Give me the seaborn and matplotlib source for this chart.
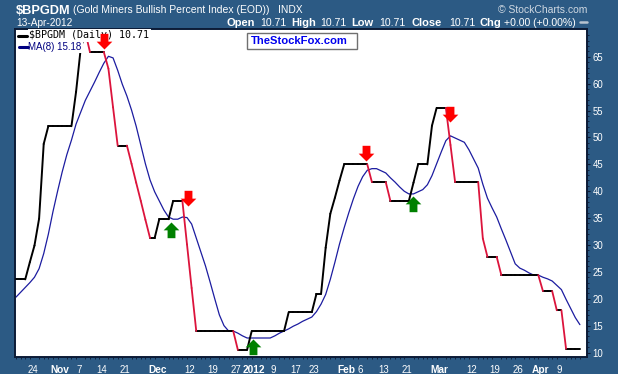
import numpy as np
import pandas as pd
import matplotlib
matplotlib.use("Agg")
import matplotlib.pyplot as plt
import seaborn as sns
from matplotlib.path import Path
from matplotlib.lines import Line2D
from matplotlib.patches import Rectangle
from matplotlib.transforms import ScaledTranslation

# ---------------- data ----------------
bpgdm = [23.6, 23.6, 23.6, 26.8, 29.9, 34.9, 48.8,
         52.1, 52.1, 52.1, 52.1, 52.1, 52.1,
         58.5, 66.5, 69.6,
         65.9, 65.9, 65.9, 65.9,
         62.8, 55.6,
         48.5, 48.5, 48.5,
         45.1, 41.6, 38.2, 34.7, 31.3,
         31.3,
         34.8, 34.8, 34.8,
         38.2, 38.2, 38.2,
         30.1, 22.0,
         14.0, 14.0, 14.0, 14.0, 14.0, 14.0, 14.0, 14.0, 14.0,
         10.5, 10.5, 10.5,
         14.0, 14.0, 14.0, 14.0, 14.0, 14.0, 14.0, 14.0,
         17.5, 17.5, 17.5, 17.5, 17.5, 17.5,
         20.9, 20.9,
         29.5, 35.8, 38.8, 42.0,
         45.0, 45.0, 45.0, 45.0, 45.0, 45.0,
         41.7, 41.7, 41.7, 41.7,
         38.2, 38.2, 38.2, 38.2, 38.2,
         41.6,
         45.0, 45.0, 45.0,
         52.2,
         55.5, 55.5, 55.5,
         48.6,
         41.7, 41.7, 41.7, 41.7, 41.7, 41.7,
         31.2,
         27.8, 27.8, 27.8,
         24.4, 24.4, 24.4, 24.4, 24.4, 24.4, 24.4, 24.4, 24.4,
         21.43, 21.43, 21.43,
         17.86, 17.86,
         10.71, 10.71, 10.71, 10.71]

ma8 = [20.3, 21.2, 22.1, 23.0, 24.0, 25.6, 28.4, 32.0, 36.2, 40.0,
       43.6, 46.8, 49.5, 52.5, 54.7, 56.9, 58.6, 60.3, 62.1, 63.8,
       65.1, 64.8, 62.5, 59.9, 57.7, 55.1, 52.1, 48.6, 45.1, 42.1,
       39.9, 38.2, 36.5, 35.2, 34.8, 34.8, 35.2, 35.1, 33.9, 31.3,
       28.7, 26.1, 23.1, 20.0, 17.0, 15.0, 14.0, 14.0, 13.6, 13.1,
       12.7, 12.7, 12.7, 12.7, 12.7, 12.7, 13.1, 13.6, 14.0, 14.4,
       14.9, 15.3, 15.8, 16.2, 16.6, 17.6, 19.0, 20.8, 23.6, 26.8,
       30.2, 33.2, 36.0, 38.6, 40.9, 42.7, 43.9, 44.2, 44.2, 43.8,
       43.4, 42.5, 41.7, 40.8, 40.0, 39.5, 39.5, 39.9, 40.3, 41.2,
       42.9, 45.1, 47.3, 49.4, 50.3, 49.9, 49.5, 49.1, 47.7, 46.0,
       44.3, 41.3, 38.7, 36.9, 35.2, 33.0, 30.9, 28.7, 26.5, 25.7,
       25.3, 24.8, 24.4, 24.4, 24.0, 23.7, 23.3, 22.5, 21.7, 19.9,
       18.2, 16.5, 15.18]

start_date, end_date = "2011-10-18", "2012-04-13"
holidays = ["2011-11-24", "2011-12-26", "2012-01-02", "2012-01-16",
            "2012-02-20", "2012-04-06"]

tick_dates = ["2011-10-24", "2011-11-01", "2011-11-07", "2011-11-14", "2011-11-21",
              "2011-12-01", "2011-12-12", "2011-12-19", "2011-12-27", "2012-01-03",
              "2012-01-09", "2012-01-17", "2012-01-23", "2012-02-01", "2012-02-06",
              "2012-02-13", "2012-02-21", "2012-03-01", "2012-03-12", "2012-03-19",
              "2012-03-26", "2012-04-02", "2012-04-09"]
tick_labels = ["24", "Nov", "7", "14", "21", "Dec", "12", "19", "27", "2012", "9",
               "17", "23", "Feb", "6", "13", "21", "Mar", "12", "19", "26", "Apr", "9"]
bold_labels = ["Nov", "Dec", "2012", "Feb", "Mar", "Apr"]
y_ticks = [10, 15, 20, 25, 30, 35, 40, 45, 50, 55, 60, 65]

# signal arrows (annotations): trading-day position and tip value
sell_t = [19.1, 37.3, 75.7, 93.9]
sell_v = [66.4, 37.3, 45.7, 52.9]
buy_t = [33.5, 51.3, 85.9]
buy_v = [34.3, 12.55, 39.15]

# ---------------- styling ----------------
sns.set_theme(style="white")
plt.rcParams["font.family"] = ["Liberation Sans", "DejaVu Sans"]

BG = "#2c5a84"
NAVY_BORDER = "#0c1b36"
RED = "#dc143c"
BLUE = "#1c1ca0"
W, H = 618, 374

fig = plt.figure(figsize=(W / 100, H / 100), dpi=100)
fig.patch.set_facecolor(BG)

def px(x, y):
    return x / W, 1 - y / H

left, right, top, bottom = 14.5, 587.3, 29.3, 357.3
ax = fig.add_axes([left / W, 1 - bottom / H, (right - left) / W, (bottom - top) / H])
ax.set_facecolor("white")

dates = pd.bdate_range(start_date, end_date, freq="C", holidays=holidays)
df = pd.DataFrame({"t": np.arange(len(dates)), "date": dates,
                   "BPGDM": bpgdm, "MA8": ma8})

# one segment per day-to-day step, coloured by direction
steps = range(len(bpgdm) - 1)
seg = pd.DataFrame({
    "seg": np.repeat(np.arange(len(bpgdm) - 1), 2),
    "t": [t for i in steps for t in (i, i + 1)],
    "v": [bpgdm[t] for i in steps for t in (i, i + 1)],
    "kind": [("down" if bpgdm[i + 1] < bpgdm[i] else "up") for i in steps for _ in (0, 1)],
})

sns.lineplot(data=df, x="t", y="MA8", color=BLUE, lw=0.9, ax=ax, zorder=2)
sns.lineplot(data=seg[seg.kind == "up"], x="t", y="v", units="seg", estimator=None,
             color="black", lw=1.4, ax=ax, zorder=3, solid_capstyle="round")
sns.lineplot(data=seg[seg.kind == "down"], x="t", y="v", units="seg", estimator=None,
             color=RED, lw=1.3, ax=ax, zorder=4, solid_capstyle="round")

ax.set_xlim(-0.32, 123.6)
ax.set_ylim(9.11, 70.12)
ax.set_xlabel("")
ax.set_ylabel("")

# y axis on the right
ax.yaxis.tick_right()
ax.set_yticks(y_ticks)
ax.set_yticklabels([str(v) for v in y_ticks])
ax.set_yticks(np.arange(10, 70, 1), minor=True)
ax.tick_params(axis="y", which="major", length=2.4, width=0.8, color=NAVY_BORDER,
               labelcolor="white", labelsize=6.9, pad=1.2, direction="out",
               left=False, right=True)
ax.tick_params(axis="y", which="minor", length=1.5, width=0.6, color=NAVY_BORDER,
               left=False, right=True, direction="out")

# x axis
tick_idx = dates.get_indexer(pd.to_datetime(tick_dates))
ax.set_xticks(tick_idx)
ax.set_xticklabels(tick_labels)
ax.set_xticks(np.arange(len(dates)), minor=True)
ax.tick_params(axis="x", which="major", length=0, labelcolor="white",
               labelsize=6.9, pad=5.2)
ax.tick_params(axis="x", which="minor", length=1.6, width=0.6,
               color=NAVY_BORDER, direction="out", bottom=True)
shift = ScaledTranslation(-2 / 100, 0, fig.dpi_scale_trans)
for lab in ax.get_xticklabels():
    lab.set_transform(lab.get_transform() + shift)
    if lab.get_text() in bold_labels:
        lab.set_fontweight("bold")
        lab.set_fontsize(7.3)

for sp in ax.spines.values():
    sp.set_color(NAVY_BORDER)
    sp.set_linewidth(1.4)
    sp.set_visible(True)

# ---------------- signal arrows ----------------
down_path = Path([(0, 0), (0.5, 0.5), (0.25, 0.5), (0.25, 1), (-0.25, 1),
                  (-0.25, 0.5), (-0.5, 0.5), (0, 0)],
                 [Path.MOVETO] + [Path.LINETO] * 6 + [Path.CLOSEPOLY])
up_path = Path([(x, -y) for x, y in down_path.vertices], down_path.codes)
ax.plot(sell_t, sell_v, linestyle="none", marker=down_path, ms=22.6,
        color="#ff0000", mew=0, zorder=8, clip_on=False)
ax.plot(buy_t, buy_v, linestyle="none", marker=up_path, ms=22.6,
        color="#008000", mew=0, zorder=8, clip_on=False)

# ---------------- in-chart legend ----------------
ft = fig.transFigure
ax.text(*px(29, 35.5), "$BPGDM (Daily) 10.71", transform=ft, va="center",
        ha="left", family="DejaVu Sans Mono", fontsize=7.2, color="black",
        zorder=6, bbox=dict(boxstyle="square,pad=0.15", fc="white", ec="none"))
ax.text(*px(28.5, 46.5), "MA(8) 15.18", transform=ft, va="center", ha="left",
        fontsize=7.0, color="#000080", zorder=6,
        bbox=dict(boxstyle="square,pad=0.15", fc="white", ec="none"))
ax.add_artist(Line2D([18.3 / W, 26.7 / W], [1 - 35.5 / H, 1 - 35.5 / H],
                     transform=ft, color="black", lw=2.2, zorder=7))
ax.add_artist(Line2D([19.3 / W, 27.7 / W], [1 - 46.5 / H, 1 - 46.5 / H],
                     transform=ft, color="#000080", lw=2.2, zorder=7))

# TheStockFox box
ax.add_patch(Rectangle(px(247.3, 48.5), 110 / W, 15.5 / H, transform=ft,
                       facecolor="white", edgecolor="#707070", lw=1.0, zorder=7))
ax.text(*px(250.7, 41), "TheStockFox.com", transform=ft, va="center", ha="left",
        fontsize=8.1, fontweight="bold", color="#0000ee", zorder=8)

# ---------------- header ----------------
fig.text(*px(15.8, 13.6), "$BPGDM", fontsize=9.2, fontweight="bold",
         color="white", va="baseline", ha="left")
fig.text(*px(73.3, 13.2), "(Gold Miners Bullish Percent Index (EOD))",
         fontsize=7.5, color="white", va="baseline", ha="left")
fig.text(*px(278, 13.2), "INDX", fontsize=7.4, color="white",
         va="baseline", ha="left")
fig.text(*px(587, 13.2), "\u00a9 StockCharts.com", fontsize=7.5,
         color="#cfd8e2", va="baseline", ha="right")
fig.text(*px(15.8, 25.6), "13-Apr-2012", fontsize=7.3, color="white",
         va="baseline", ha="left")

header_parts = [("Open", True, 226.6), ("10.71", False, 260.2),
                ("High", True, 291.7), ("10.71", False, 320.0),
                ("Low", True, 351.6), ("10.71", False, 379.2),
                ("Close", True, 411.9), ("10.71", False, 449.3),
                ("Chg", True, 480.0), ("+0.00 (+0.00%)", False, 504.5)]
for txt, bold, xpos in header_parts:
    fig.text(*px(xpos, 25.8), txt, fontsize=8.0 if bold else 7.6,
             fontweight="bold" if bold else "normal", color="white",
             va="baseline", ha="left")
fig.add_artist(Line2D([580 / W, 586.5 / W], [1 - 22.3 / H, 1 - 22.3 / H],
                      transform=ft, color="#b8c4d0", lw=1.8))

fig.savefig("out.png", dpi=100, facecolor=BG)
